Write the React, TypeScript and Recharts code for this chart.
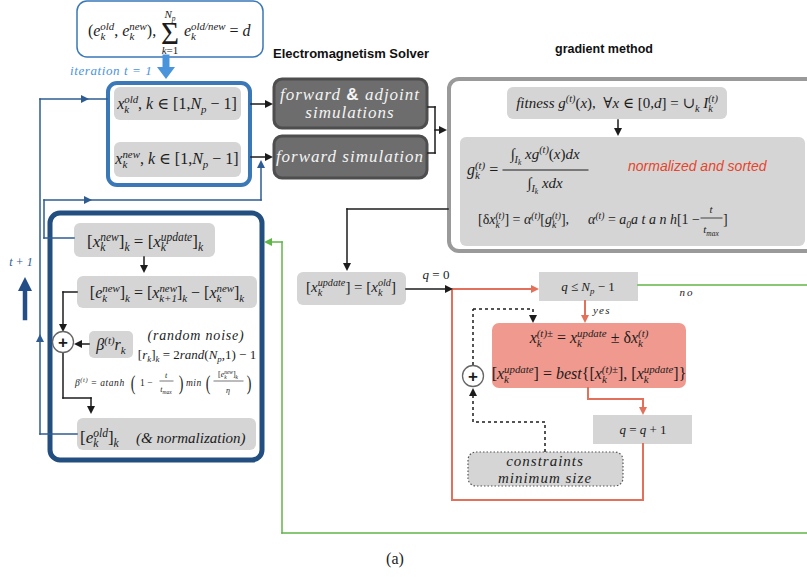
import React from "react";
import { ComposedChart, XAxis, YAxis, ReferenceArea, ReferenceLine, ReferenceDot } from "recharts";

const W = 807;
const H = 577;

// plain labels of the diagram
const panelTitles = ["Electromagnetism Solver", "gradient method"];
const solverSteps = ["forward & adjoint", "simulations", "forward simulation"];
const branchWords = ["yes", "no"];
const notes = ["normalized and sorted", "(random noise)", "(& normalization)"];
const constraintLines = ["constraints", "minimum size"];
const iterLabels = ["iteration t = 1", "t + 1"];
const caption = "(a)";

const SERIF = "'Liberation Serif', 'DejaVu Serif', serif";
const SANS = "'Liberation Sans', Arial, sans-serif";
const GREY = "#d5d5d5";
const NAVY = "#2d5c92";
const BLUE = "#3a78b8";
const LBLUE = "#4a94dc";
const ORANGE = "#e2705a";
const GREEN = "#5fb548";
const INK = "#1c1c1c";

type Seg = { t: string; it?: boolean; lv?: number; back?: string; sans?: boolean };
const r = (t: string): Seg => ({ t });
const i = (t: string): Seg => ({ t, it: true });
const sp = (t: string): Seg => ({ t, it: true, lv: 1 });
const sb = (t: string, it = true): Seg => ({ t, it, lv: -1 });

const charW = (c: string) =>
  "mw".includes(c) ? 0.72 : "0123456789".includes(c) ? 0.5 : "+=−±".includes(c) ? 0.68 : "()[]".includes(c) ? 0.33 : 0.45;
const estW = (s: string) => s.split("").reduce((a, c) => a + charW(c), 0);

// base letter with stacked subscript and superscript
const ss = (b: string, sub: string, sup: string): Seg[] =>
  estW(sub) > estW(sup)
    ? [i(b), { t: sup, it: true, lv: 1 }, { t: sub, it: true, lv: -1, back: sup }]
    : [i(b), { t: sub, it: true, lv: -1 }, { t: sup, it: true, lv: 1, back: sub }];

interface MTProps {
  x: number;
  y: number;
  fs: number;
  segs: Seg[];
  anchor?: "start" | "middle" | "end";
  fill?: string;
  ls?: number;
}

const MT = ({ x, y, fs, segs, anchor = "middle", fill = INK, ls }: MTProps) => {
  let cur = 0;
  return (
    <text x={x} y={y} fontSize={fs} fontFamily={SERIF} textAnchor={anchor} fill={fill} letterSpacing={ls} style={{ whiteSpace: "pre" }}>
      {segs.map((s, k) => {
        const lv = s.lv || 0;
        const size = lv === 0 ? fs : lv === -2 ? fs * 0.5 : fs * 0.68;
        const target = lv === 1 ? -0.38 * fs : lv === -1 ? 0.26 * fs : lv === -2 ? 0.42 * fs : 0;
        const dy = target - cur;
        cur = target;
        return (
          <tspan
            key={k}
            dy={dy || undefined}
            dx={s.back ? -estW(s.back) * size : undefined}
            fontSize={size}
            fontStyle={s.it ? "italic" : "normal"}
            fontFamily={s.sans ? SANS : undefined}
            fontWeight={s.sans ? "bold" : undefined}
          >
            {s.t}
          </tspan>
        );
      })}
    </text>
  );
};

const Plain = ({ x, y, fs, t, anchor = "middle", fill = INK, italic = true, ls }: any) => (
  <text x={x} y={y} fontSize={fs} fontFamily={SERIF} fontStyle={italic ? "italic" : "normal"} textAnchor={anchor} fill={fill} letterSpacing={ls} style={{ whiteSpace: "pre" }}>
    {t}
  </text>
);

type Box = { x1: number; x2: number; y1: number; y2: number; fill: string; stroke?: string; sw?: number; rx?: number; dash?: string };
const boxes: Box[] = [
  { x1: 77, x2: 263, y1: 1, y2: 57, fill: "#fff", stroke: BLUE, sw: 1.5, rx: 10 },
  { x1: 108, x2: 250, y1: 83, y2: 185, fill: "#fff", stroke: BLUE, sw: 4, rx: 9 },
  { x1: 114, x2: 241, y1: 87, y2: 120, fill: GREY, rx: 6 },
  { x1: 114, x2: 241, y1: 142, y2: 177, fill: GREY, rx: 6 },
  { x1: 274, x2: 427, y1: 79, y2: 128, fill: "#6d6d6d", stroke: "#4e4e4e", sw: 3, rx: 8 },
  { x1: 274, x2: 427, y1: 136, y2: 178, fill: "#6d6d6d", stroke: "#4e4e4e", sw: 3, rx: 8 },
  { x1: 449, x2: 818, y1: 79, y2: 251, fill: "#fff", stroke: "#9a9a9a", sw: 4, rx: 10 },
  { x1: 507, x2: 727, y1: 87, y2: 119, fill: GREY, rx: 6 },
  { x1: 460, x2: 805, y1: 137, y2: 246, fill: GREY, rx: 6 },
  { x1: 297, x2: 406, y1: 272, y2: 305, fill: GREY, rx: 6 },
  { x1: 539, x2: 638, y1: 272, y2: 301, fill: GREY },
  { x1: 492, x2: 686, y1: 323, y2: 388, fill: "#f0998e", rx: 7 },
  { x1: 593, x2: 692, y1: 415, y2: 444, fill: GREY },
  { x1: 468, x2: 623, y1: 452, y2: 486, fill: GREY, stroke: "#555", sw: 1.2, rx: 8, dash: "1.5 2" },
  { x1: 50, x2: 262, y1: 213, y2: 460, fill: "#fff", stroke: "#234e80", sw: 5, rx: 10 },
  { x1: 74, x2: 215, y1: 223, y2: 257, fill: GREY, rx: 6 },
  { x1: 77, x2: 257, y1: 276, y2: 308, fill: GREY, rx: 6 },
  { x1: 89, x2: 133, y1: 331, y2: 358, fill: GREY, rx: 5 },
  { x1: 77, x2: 256, y1: 418, y2: 450, fill: GREY, rx: 6 },
];

type Path = { pts: [number, number][]; color: string; w: number; dash?: string };
const paths: Path[] = [
  { pts: [[166, 58], [166, 68]], color: LBLUE, w: 7 },
  { pts: [[251, 104], [268, 104]], color: INK, w: 1.5 },
  { pts: [[251, 157], [268, 157]], color: INK, w: 1.5 },
  { pts: [[428, 107], [435, 107], [435, 153], [428, 153]], color: INK, w: 1.5 },
  { pts: [[435, 130], [442, 130]], color: INK, w: 1.5 },
  { pts: [[618, 120], [618, 130]], color: INK, w: 1.5 },
  { pts: [[448, 209], [347, 209], [347, 264]], color: INK, w: 1.5 },
  { pts: [[406, 289], [446, 289]], color: INK, w: 1.5 },
  { pts: [[452, 289], [532, 289]], color: ORANGE, w: 2 },
  { pts: [[452, 289], [452, 500], [643, 500], [643, 444]], color: ORANGE, w: 2 },
  { pts: [[585, 301], [585, 316]], color: ORANGE, w: 2 },
  { pts: [[588, 388], [588, 399], [643, 399], [643, 408]], color: ORANGE, w: 2 },
  { pts: [[638, 285], [807, 285]], color: GREEN, w: 1.5 },
  { pts: [[807, 533], [282, 533], [282, 242], [270, 242]], color: GREEN, w: 1.5 },
  { pts: [[473, 365], [473, 309], [533, 309], [533, 316]], color: INK, w: 1.5, dash: "3 3" },
  { pts: [[545, 452], [545, 422], [473, 422], [473, 394]], color: INK, w: 1.5, dash: "3 3" },
  { pts: [[144, 257], [144, 266]], color: INK, w: 1.5 },
  { pts: [[77, 292], [63, 292], [63, 326]], color: INK, w: 1.5 },
  { pts: [[89, 344], [80, 344]], color: INK, w: 1.5 },
  { pts: [[63, 353], [63, 398], [91, 398], [91, 408]], color: INK, w: 1.5 },
  { pts: [[77, 434], [40, 434], [40, 99], [107, 99]], color: NAVY, w: 1.5 },
  { pts: [[74, 238], [44, 238], [44, 200], [261, 200], [261, 166]], color: NAVY, w: 1.5 },
  { pts: [[25, 318], [25, 290]], color: "#244f86", w: 4.5 },
  { pts: [[503, 170], [588, 170]], color: INK, w: 1 },
  { pts: [[701, 218], [722, 218]], color: INK, w: 0.8 },
  { pts: [[160, 381], [173, 381]], color: INK, w: 0.6 },
  { pts: [[214, 381], [243, 381]], color: INK, w: 0.6 },
];

type Head = { x: number; y: number; dir: "r" | "l" | "u" | "d"; color: string; len?: number; half?: number };
const heads: Head[] = [
  { x: 166, y: 79, dir: "d", color: LBLUE, len: 12, half: 9 },
  { x: 273, y: 104, dir: "r", color: INK },
  { x: 273, y: 157, dir: "r", color: INK },
  { x: 447, y: 130, dir: "r", color: INK },
  { x: 618, y: 136, dir: "d", color: INK },
  { x: 347, y: 271, dir: "d", color: INK },
  { x: 453, y: 289, dir: "r", color: INK },
  { x: 539, y: 289, dir: "r", color: ORANGE },
  { x: 585, y: 323, dir: "d", color: ORANGE },
  { x: 643, y: 415, dir: "d", color: ORANGE },
  { x: 264, y: 242, dir: "l", color: GREEN },
  { x: 533, y: 323, dir: "d", color: INK },
  { x: 473, y: 388, dir: "u", color: INK },
  { x: 144, y: 273, dir: "d", color: INK },
  { x: 63, y: 332, dir: "d", color: INK },
  { x: 74, y: 344, dir: "l", color: INK },
  { x: 91, y: 414, dir: "d", color: INK },
  { x: 89, y: 99, dir: "r", color: NAVY },
  { x: 40, y: 334, dir: "u", color: NAVY },
  { x: 92, y: 200, dir: "r", color: NAVY },
  { x: 261, y: 160, dir: "u", color: NAVY },
  { x: 25, y: 277, dir: "u", color: "#244f86", len: 14, half: 7 },
];

const headShape = (h: Head) => (p: any) => {
  const L = h.len ?? 8;
  const b = h.half ?? 4;
  const { cx, cy } = p;
  const pts =
    h.dir === "r" ? [[cx, cy], [cx - L, cy - b], [cx - L, cy + b]]
    : h.dir === "l" ? [[cx, cy], [cx + L, cy - b], [cx + L, cy + b]]
    : h.dir === "d" ? [[cx, cy], [cx - b, cy - L], [cx + b, cy - L]]
    : [[cx, cy], [cx - b, cy + L], [cx + b, cy + L]];
  return <polygon points={pts.map((q) => q.join(",")).join(" ")} fill={h.color} />;
};

const plus = (x: number, y: number) => (
  <g>
    <circle cx={x} cy={y} r={10.5} fill="#fff" stroke="#666" strokeWidth={1.3} />
    <text x={x} y={y + 5.5} fontSize={17} fontWeight="bold" fontFamily={SANS} textAnchor="middle" fill={INK}>+</text>
  </g>
);

const bigParen = (x: number, y: number, t: string) => (
  <text x={x} y={y} fontSize={20} fontFamily={SERIF} textAnchor="middle" fill={INK} transform={`translate(${x},${y}) scale(0.7,1) translate(${-x},${-y})`}>{t}</text>
);

type Lbl = { x: number; y: number; draw: (x: number, y: number) => React.ReactElement };
const labels: Lbl[] = [
  { x: 273, y: 58, draw: (x, y) => <text x={x} y={y} fontSize={13} fontWeight="bold" fontFamily={SANS} fill="#111">{panelTitles[0]}</text> },
  { x: 604, y: 53, draw: (x, y) => <text x={x} y={y} fontSize={12.5} fontWeight="bold" fontFamily={SANS} fill="#111" textAnchor="middle">{panelTitles[1]}</text> },
  // top formula
  { x: 88, y: 36, draw: (x, y) => <MT x={x} y={y} fs={16} anchor="start" segs={[r("("), ...ss("e", "k", "old"), r(", "), ...ss("e", "k", "new"), r("),")]} /> },
  { x: 170, y: 44, draw: (x, y) => <text x={x} y={y} fontSize={31} fontFamily={SERIF} textAnchor="middle" fill={INK}>Σ</text> },
  { x: 170, y: 18, draw: (x, y) => <MT x={x} y={y} fs={11} segs={[i("N"), sb("p")]} /> },
  { x: 170, y: 54, draw: (x, y) => <MT x={x} y={y} fs={11} segs={[i("k"), r("=1")]} /> },
  { x: 184, y: 36, draw: (x, y) => <MT x={x} y={y} fs={16} anchor="start" segs={[...ss("e", "k", "old/new"), r(" = "), i("d")]} /> },
  { x: 70, y: 75, draw: (x, y) => <Plain x={x} y={y} fs={13} t={iterLabels[0]} anchor="start" fill={LBLUE} ls={0.6} /> },
  { x: 21, y: 266, draw: (x, y) => <Plain x={x} y={y} fs={12} t={iterLabels[1]} fill={NAVY} /> },
  // blue box 1
  { x: 177, y: 109, draw: (x, y) => <MT x={x} y={y} fs={16} segs={[...ss("x", "k", "old"), r(", "), i("k"), r(" ∈ [1,"), i("N"), sb("p"), r(" − 1]")]} /> },
  { x: 177, y: 164, draw: (x, y) => <MT x={x} y={y} fs={16} segs={[...ss("x", "k", "new"), r(", "), i("k"), r(" ∈ [1,"), i("N"), sb("p"), r(" − 1]")]} /> },
  // solver
  { x: 350, y: 100, draw: (x, y) => <MT x={x} y={y} fs={17} fill="#f4f4f4" ls={1} segs={[i("forward "), { t: "&", sans: true }, i(" adjoint")]} /> },
  { x: 350, y: 118, draw: (x, y) => <Plain x={x} y={y} fs={17} t={solverSteps[1]} fill="#f4f4f4" ls={1} /> },
  { x: 350, y: 162, draw: (x, y) => <Plain x={x} y={y} fs={17} t={solverSteps[2]} fill="#f4f4f4" ls={1} /> },
  // gradient method
  { x: 617, y: 108, draw: (x, y) => <MT x={x} y={y} fs={15} segs={[i("fitness "), i("g"), sp("(t)"), r("("), i("x"), r("),  ∀"), i("x"), r(" ∈ [0,"), i("d"), r("] = ∪"), sb("k"), r(" "), ...ss("I", "k", "(t)")]} /> },
  { x: 467, y: 175, draw: (x, y) => <MT x={x} y={y} fs={16} anchor="start" segs={[...ss("g", "k", "(t)"), r(" =")]} /> },
  { x: 545, y: 159, draw: (x, y) => <MT x={x} y={y} fs={15} segs={[r("∫"), sb("I"), { t: "k", it: true, lv: -2 }, r(" "), i("xg"), sp("(t)"), r("("), i("x"), r(")"), i("dx")]} /> },
  { x: 545, y: 188, draw: (x, y) => <MT x={x} y={y} fs={15} segs={[r("∫"), sb("I"), { t: "k", it: true, lv: -2 }, r(" "), i("xdx")]} /> },
  { x: 628, y: 171, draw: (x, y) => <text x={x} y={y} fontSize={14} fontStyle="italic" fontFamily={SANS} fill="#e5452c">{notes[0]}</text> },
  { x: 478, y: 224, draw: (x, y) => <MT x={x} y={y} fs={14} anchor="start" segs={[r("[δ"), ...ss("x", "k", "(t)"), r("] = "), i("α"), sp("(t)"), r("["), ...ss("g", "k", "(t)"), r("],")]} /> },
  { x: 700, y: 224, draw: (x, y) => <MT x={x} y={y} fs={14} anchor="end" segs={[i("α"), sp("(t)"), r(" = "), i("a"), sb("0"), i("a t a n h"), r("[1 −")]} /> },
  { x: 711, y: 213, draw: (x, y) => <Plain x={x} y={y} fs={11} t="t" /> },
  { x: 711, y: 233, draw: (x, y) => <MT x={x} y={y} fs={11} segs={[i("t"), sb("max")]} /> },
  { x: 723, y: 224, draw: (x, y) => <Plain x={x} y={y} fs={14} t="]" anchor="start" italic={false} /> },
  // update loop
  { x: 351, y: 292, draw: (x, y) => <MT x={x} y={y} fs={15} segs={[r("["), ...ss("x", "k", "update"), r("] = ["), ...ss("x", "k", "old"), r("]")]} /> },
  { x: 436, y: 279, draw: (x, y) => <MT x={x} y={y} fs={13} segs={[i("q"), r(" = 0")]} /> },
  { x: 588, y: 291, draw: (x, y) => <MT x={x} y={y} fs={13} segs={[i("q"), r(" ≤ "), i("N"), sb("p"), r(" − 1")]} /> },
  { x: 593, y: 314, draw: (x, y) => <Plain x={x} y={y} fs={11} t={branchWords[0]} anchor="start" ls={1.2} /> },
  { x: 687, y: 296, draw: (x, y) => <Plain x={x} y={y} fs={11} t={branchWords[1]} ls={2} /> },
  { x: 589, y: 343, draw: (x, y) => <MT x={x} y={y} fs={16} segs={[...ss("x", "k", "(t)±"), r(" = "), ...ss("x", "k", "update"), r(" ± δ"), ...ss("x", "k", "(t)")]} /> },
  { x: 589, y: 379, draw: (x, y) => <MT x={x} y={y} fs={16} segs={[r("["), ...ss("x", "k", "update"), r("] = "), i("best"), r("{["), ...ss("x", "k", "(t)±"), r("], ["), ...ss("x", "k", "update"), r("]}")]} /> },
  { x: 643, y: 434, draw: (x, y) => <MT x={x} y={y} fs={13} segs={[i("q"), r(" = "), i("q"), r(" + 1")]} /> },
  { x: 545, y: 466, draw: (x, y) => <Plain x={x} y={y} fs={15} t={constraintLines[0]} ls={1} /> },
  { x: 545, y: 483, draw: (x, y) => <Plain x={x} y={y} fs={15} t={constraintLines[1]} ls={1} /> },
  { x: 473, y: 376, draw: (x, y) => plus(x, y) },
  // blue box 2
  { x: 145, y: 247, draw: (x, y) => <MT x={x} y={y} fs={17} segs={[r("["), ...ss("x", "k", "new"), r("]"), sb("k"), r(" = ["), ...ss("x", "k", "update"), r("]"), sb("k")]} /> },
  { x: 167, y: 298, draw: (x, y) => <MT x={x} y={y} fs={16} segs={[r("["), ...ss("e", "k", "new"), r("]"), sb("k"), r(" = ["), ...ss("x", "k+1", "new"), r("]"), sb("k"), r(" − ["), ...ss("x", "k", "new"), r("]"), sb("k")]} /> },
  { x: 63, y: 342, draw: (x, y) => plus(x, y) },
  { x: 111, y: 350, draw: (x, y) => <MT x={x} y={y} fs={16} segs={[i("β"), sp("(t)"), i("r"), sb("k")]} /> },
  { x: 196, y: 340, draw: (x, y) => <Plain x={x} y={y} fs={14} t={notes[1]} ls={0.8} /> },
  { x: 197, y: 359, draw: (x, y) => <MT x={x} y={y} fs={13} segs={[r("["), i("r"), sb("k"), r("]"), sb("k"), r(" = 2"), i("rand"), r("("), i("N"), sb("p"), r(",1) − 1")]} /> },
  { x: 75, y: 386, draw: (x, y) => <MT x={x} y={y} fs={9.5} anchor="start" ls={0.6} segs={[i("β"), sp("(t)"), r(" = "), i("atanh")]} /> },
  { x: 133, y: 390, draw: (x, y) => bigParen(x, y, "(") },
  { x: 140, y: 386, draw: (x, y) => <MT x={x} y={y} fs={9.5} anchor="start" segs={[r("1 −")]} /> },
  { x: 166, y: 378, draw: (x, y) => <Plain x={x} y={y} fs={8} t="t" /> },
  { x: 166, y: 392, draw: (x, y) => <MT x={x} y={y} fs={8} segs={[i("t"), sb("max")]} /> },
  { x: 181, y: 390, draw: (x, y) => bigParen(x, y, ")") },
  { x: 186, y: 386, draw: (x, y) => <Plain x={x} y={y} fs={9.5} t="min" anchor="start" ls={0.5} /> },
  { x: 208, y: 390, draw: (x, y) => bigParen(x, y, "(") },
  { x: 228, y: 377, draw: (x, y) => <MT x={x} y={y} fs={8} segs={[r("["), ...ss("e", "k", "new"), r("]"), sb("k")]} /> },
  { x: 228, y: 393, draw: (x, y) => <Plain x={x} y={y} fs={8} t="η" /> },
  { x: 249, y: 390, draw: (x, y) => bigParen(x, y, ")") },
  { x: 80, y: 443, draw: (x, y) => <MT x={x} y={y} fs={17} anchor="start" segs={[r("["), ...ss("e", "k", "old"), r("]"), sb("k")]} /> },
  { x: 136, y: 443, draw: (x, y) => <Plain x={x} y={y} fs={15} t={notes[2]} anchor="start" /> },
  { x: 395, y: 564, draw: (x, y) => <Plain x={x} y={y} fs={16} t={caption} italic={false} /> },
];

export default function App() {
  return (
    <div style={{ position: "absolute", left: 0, top: 0, width: W, height: H, background: "#fff" }}>
      <ComposedChart width={W} height={H} data={[]} margin={{ top: 0, right: 0, bottom: 0, left: 0 }}>
        <XAxis type="number" dataKey="x" domain={[0, W]} allowDataOverflow hide />
        <YAxis type="number" domain={[0, H]} allowDataOverflow reversed hide />
        {boxes.map((b, k) => (
          <ReferenceArea
            key={`b${k}`}
            x1={b.x1}
            x2={b.x2}
            y1={b.y1}
            y2={b.y2}
            ifOverflow="visible"
            shape={(p: any) => (
              <rect
                x={p.x}
                y={p.y}
                width={p.width}
                height={p.height}
                rx={b.rx ?? 0}
                fill={b.fill}
                stroke={b.stroke ?? "none"}
                strokeWidth={b.sw ?? 0}
                strokeDasharray={b.dash}
              />
            )}
          />
        ))}
        {paths.flatMap((p, pi) =>
          p.pts.slice(1).map((pt, k) => (
            <ReferenceLine
              key={`l${pi}-${k}`}
              segment={[{ x: p.pts[k][0], y: p.pts[k][1] }, { x: pt[0], y: pt[1] }]}
              stroke={p.color}
              strokeWidth={p.w}
              strokeDasharray={p.dash}
              strokeLinecap={p.dash ? "butt" : "square"}
              ifOverflow="visible"
            />
          ))
        )}
        {heads.map((h, k) => (
          <ReferenceDot key={`h${k}`} x={h.x} y={h.y} r={1} ifOverflow="visible" shape={headShape(h)} />
        ))}
        {labels.map((l, k) => (
          <ReferenceDot key={`t${k}`} x={l.x} y={l.y} r={1} ifOverflow="visible" shape={(p: any) => l.draw(p.cx, p.cy)} />
        ))}
      </ComposedChart>
    </div>
  );
}
